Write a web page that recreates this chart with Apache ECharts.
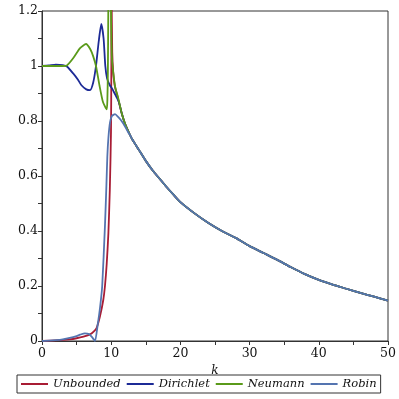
<!DOCTYPE html>
<html>
<head>
<meta charset="utf-8">
<script src="https://cdn.jsdelivr.net/npm/echarts@6/dist/echarts.min.js"></script>
<style>html,body{margin:0;padding:0;background:#fff}#c{width:399px;height:399px}</style>
</head>
<body>
<div id="c"></div>
<script>
// Shared decaying tail (all four curves coincide here)
var kTail = [11.5, 12, 12.7, 13, 14, 15, 16, 17, 18, 19, 20, 22, 24, 26, 28, 30, 32, 34, 36, 38, 40, 42, 44, 46, 48, 50];
var yTail = [0.83, 0.79, 0.75, 0.735, 0.695, 0.655, 0.62, 0.59, 0.56, 0.532, 0.505, 0.465, 0.43, 0.40, 0.375, 0.345, 0.32, 0.295, 0.268, 0.243, 0.222, 0.205, 0.19, 0.175, 0.161, 0.147];

var kUnbounded = [0, 2, 4, 5, 6, 6.94, 7.5, 7.9, 8.38, 8.86, 9.1, 9.35, 9.59, 9.8, 9.97, 10.02, 10.04, 10.06, 10.15, 10.3, 10.5, 10.8, 11.1];
var yUnbounded = [0, 0.002, 0.006, 0.01, 0.016, 0.024, 0.035, 0.048, 0.09, 0.15, 0.2, 0.28, 0.39, 0.55, 0.76, 1.0, 1.3, 1.3, 1.05, 0.975, 0.93, 0.9, 0.87];

var kDirichlet = [0, 1, 2, 3, 3.6, 4.5, 5.2, 5.7, 6.4, 6.94, 7.4, 7.8, 8.2, 8.57, 8.9, 9.15, 9.4, 9.8, 10.2, 10.6, 11.1];
var yDirichlet = [1.0, 1.002, 1.005, 1.003, 0.998, 0.973, 0.95, 0.93, 0.915, 0.912, 0.94, 1.0, 1.09, 1.153, 1.1, 1.0, 0.955, 0.93, 0.915, 0.895, 0.87];

var kNeumann = [0, 1, 2, 3, 3.6, 4.5, 5.5, 6.36, 7.0, 7.4, 7.8, 8.3, 8.8, 9.35, 9.45, 9.52, 9.58, 9.7, 9.85, 9.97, 10.1, 10.3, 10.6, 11.0];
var yNeumann = [1.0, 1.0, 1.0, 1.0, 1.002, 1.028, 1.065, 1.08, 1.06, 1.035, 1.0, 0.93, 0.87, 0.842, 0.88, 0.98, 1.2, 1.6, 1.6, 1.2, 1.03, 0.975, 0.92, 0.885];

var kRobin = [0, 1, 2, 3, 4, 5, 5.5, 6.2, 6.8, 7.2, 7.66, 8.05, 8.38, 8.7, 9.1, 9.3, 9.44, 9.6, 9.83, 10.1, 10.55, 11.0, 11.5, 12.0, 12.5];
var yRobin = [0, 0.001, 0.003, 0.006, 0.011, 0.018, 0.023, 0.028, 0.025, 0.015, 0.0, 0.06, 0.12, 0.2, 0.42, 0.56, 0.67, 0.74, 0.795, 0.818, 0.825, 0.815, 0.8, 0.78, 0.757];

var seriesNames = ['Unbounded', 'Dirichlet', 'Neumann', 'Robin'];
var xTicks = [0, 10, 20, 30, 40, 50];
var yTicks = [0, 0.2, 0.4, 0.6, 0.8, 1, 1.2];

function build(ks, ys) {
  var out = [];
  for (var i = 0; i < ks.length; i++) out.push([ks[i], ys[i]]);
  var last = ks[ks.length - 1];
  for (var j = 0; j < kTail.length; j++) if (kTail[j] > last) out.push([kTail[j], yTail[j]]);
  return out;
}

var colors = ['#a81c34', '#1c2a96', '#5a9a1a', '#5474b0'];
var dataSets = [
  build(kUnbounded, yUnbounded),
  build(kDirichlet, yDirichlet),
  build(kNeumann, yNeumann),
  build(kRobin, yRobin)
];

var font = 'DejaVu Serif';
var chart = echarts.init(document.getElementById('c'), null, {renderer: 'canvas'});
chart.setOption({
  animation: false,
  color: colors,
  grid: {left: 42, right: 11, top: 11, bottom: 58, show: true, borderColor: '#333', borderWidth: 1},
  legend: {
    data: seriesNames,
    left: 17, top: 375,
    icon: 'rect', itemWidth: 27, itemHeight: 2, itemGap: 6,
    borderColor: '#333', borderWidth: 1, padding: [3, 4, 3, 4],
    textStyle: {fontFamily: font, fontStyle: 'italic', fontSize: 11.5, color: '#111'}
  },
  xAxis: {
    type: 'value', min: 0, max: 50, interval: 10,
    name: 'k', nameLocation: 'middle', nameGap: 18,
    nameTextStyle: {fontFamily: font, fontStyle: 'italic', fontSize: 12, color: '#111'},
    axisLine: {lineStyle: {color: '#333', width: 1}},
    axisTick: {length: 4, lineStyle: {color: '#333'}},
    minorTick: {show: true, splitNumber: 2, length: 4, lineStyle: {color: '#333'}},
    splitLine: {show: false},
    axisLabel: {fontFamily: font, fontSize: 12.5, color: '#111', margin: 6,
      formatter: function (v) { return xTicks.indexOf(v) >= 0 ? String(v) : ''; }}
  },
  yAxis: {
    type: 'value', min: 0, max: 1.2, interval: 0.2,
    axisLine: {show: true, lineStyle: {color: '#333', width: 1}},
    axisTick: {show: true, length: 4, lineStyle: {color: '#333'}},
    minorTick: {show: true, splitNumber: 2, length: 4, lineStyle: {color: '#333'}},
    splitLine: {show: false},
    axisLabel: {fontFamily: font, fontSize: 12.5, color: '#111', margin: 4,
      formatter: function (v) { var r = Math.round(v * 10) / 10; return String(r); }}
  },
  series: seriesNames.map(function (n, i) {
    return {
      name: n, type: 'line', data: dataSets[i], symbol: 'none', smooth: 0.2,
      clip: true, lineStyle: {width: 1.8, color: colors[i]}
    };
  })
});
</script>
</body>
</html>
